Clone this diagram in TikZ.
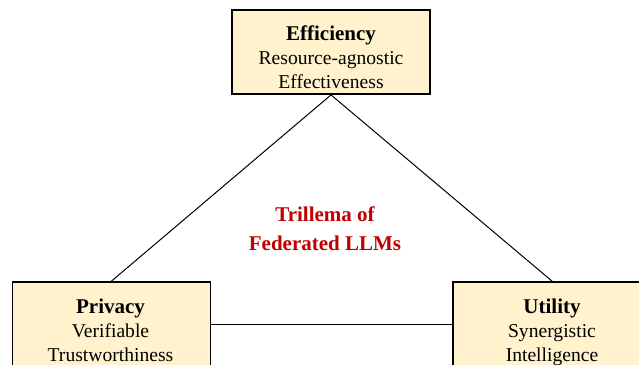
\documentclass[tikz,border=0pt]{standalone}
\usepackage{fontspec}
\setmainfont{Liberation Serif}
\definecolor{boxfill}{HTML}{FFF2CC}
\definecolor{trired}{HTML}{C00000}
\tikzset{
  pillar/.style={draw=black, line width=1.8pt, fill=boxfill, minimum width=198pt, minimum height=84pt, inner sep=0pt},
  pillartext/.style={anchor=base, align=center, inner sep=0pt, font=\fontsize{19.6}{24}\selectfont},
  edge/.style={draw=black, line width=1pt},
}
\newcommand{\hd}[1]{{\fontsize{21}{24}\selectfont\bfseries #1}}
\begin{document}
\begin{tikzpicture}[x=1pt,y=-1pt]
\useasboundingbox (0,0) rectangle (639,364);
\node[pillar] (eff) at (331,52) {};
\node[pillar] (priv) at (111.5,324) {};
\node[pillar] (util) at (552,324) {};
\draw[edge] (eff.south) -- (priv.north);
\draw[edge] (eff.south) -- (util.north);
\draw[edge] (priv.east) -- (util.west);
\node[pillartext] (efft) at (331,88) {\hd{Efficiency}\\Resource-agnostic\\Effectiveness};
\node[pillartext] (privt) at (110.5,361) {\hd{Privacy}\\Verifiable\\Trustworthiness};
\node[pillartext] (utilt) at (552,361) {\hd{Utility}\\Synergistic\\Intelligence};
\node[anchor=base, align=center, inner sep=0pt, text=trired, font=\fontsize{21}{29}\selectfont\bfseries] (tri) at (325,250) {Trillema of\\Federated LLMs};
\end{tikzpicture}
\end{document}
